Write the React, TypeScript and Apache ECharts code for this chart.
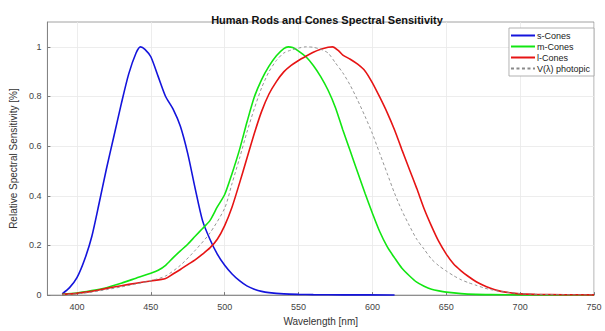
import React, { useEffect, useRef } from "react";
import * as echarts from "echarts";

const TITLE = "Human Rods and Cones Spectral Sensitivity";
const X_NAME = "Wavelength [nm]";
const Y_NAME = "Relative Spectral Sensitivity [%]";
const X_TICKS = [400, 450, 500, 550, 600, 650, 700, 750];
const Y_TICKS = [0, 0.2, 0.4, 0.6, 0.8, 1];

const S_CONES: [number, number][] = [
  [390, 0.005], [395, 0.03], [400, 0.07], [405, 0.14], [410, 0.235], [415, 0.37],
  [420, 0.51], [425, 0.64], [430, 0.77], [435, 0.89], [440, 0.975], [443, 1.0],
  [446, 0.99], [450, 0.96], [455, 0.88], [460, 0.8], [465, 0.75], [470, 0.68],
  [475, 0.57], [480, 0.43], [485, 0.3], [490, 0.225], [495, 0.165], [500, 0.12],
  [505, 0.085], [510, 0.058], [515, 0.037], [520, 0.024], [525, 0.015], [530, 0.01],
  [540, 0.005], [550, 0.003], [560, 0.002], [580, 0.001], [615, 0.0005],
];

const M_CONES: [number, number][] = [
  [390, 0.003], [400, 0.008], [410, 0.018], [420, 0.03], [430, 0.048], [440, 0.068],
  [450, 0.088], [455, 0.1], [460, 0.12], [465, 0.15], [470, 0.178], [475, 0.205],
  [480, 0.237], [485, 0.268], [490, 0.3], [495, 0.355], [500, 0.405], [505, 0.49],
  [510, 0.585], [515, 0.695], [520, 0.797], [525, 0.868], [530, 0.922], [535, 0.964],
  [540, 0.993], [543, 1.0], [546, 0.997], [550, 0.983], [555, 0.96], [560, 0.925],
  [565, 0.88], [570, 0.825], [575, 0.755], [580, 0.665], [585, 0.58], [590, 0.495],
  [595, 0.41], [600, 0.33], [605, 0.255], [610, 0.195], [615, 0.15], [620, 0.108],
  [625, 0.078], [630, 0.052], [635, 0.036], [640, 0.024], [645, 0.017], [650, 0.012],
  [660, 0.006], [670, 0.003], [680, 0.002], [700, 0.001], [750, 0.0003],
];

const L_CONES: [number, number][] = [
  [390, 0.003], [400, 0.007], [410, 0.015], [420, 0.027], [430, 0.038], [440, 0.048],
  [450, 0.057], [460, 0.067], [465, 0.085], [470, 0.103], [475, 0.123], [480, 0.142],
  [485, 0.165], [490, 0.19], [495, 0.225], [500, 0.28], [505, 0.355], [510, 0.45],
  [515, 0.55], [520, 0.65], [525, 0.74], [530, 0.81], [535, 0.86], [540, 0.899],
  [545, 0.925], [550, 0.945], [555, 0.962], [560, 0.978], [565, 0.99], [570, 0.998],
  [573, 1.0], [577, 0.985], [580, 0.967], [585, 0.95], [590, 0.93], [595, 0.903],
  [600, 0.855], [605, 0.797], [610, 0.735], [615, 0.665], [620, 0.585], [625, 0.507],
  [630, 0.43], [635, 0.348], [640, 0.278], [645, 0.215], [650, 0.165], [655, 0.125],
  [660, 0.098], [665, 0.075], [670, 0.055], [675, 0.04], [680, 0.028], [685, 0.018],
  [690, 0.012], [695, 0.008], [700, 0.005], [710, 0.003], [730, 0.0015], [750, 0.001],
];

const V_PHOTOPIC: [number, number][] = [
  [390, 0.002], [400, 0.005], [410, 0.012], [420, 0.022], [430, 0.033], [440, 0.045],
  [450, 0.058], [460, 0.077], [470, 0.12], [480, 0.18], [490, 0.25], [500, 0.35],
  [505, 0.45], [510, 0.55], [515, 0.655], [520, 0.75], [525, 0.835], [530, 0.9],
  [535, 0.945], [540, 0.975], [545, 0.987], [550, 0.995], [555, 1.0], [560, 0.998],
  [565, 0.99], [570, 0.975], [575, 0.935], [580, 0.895], [585, 0.845], [590, 0.785],
  [595, 0.72], [600, 0.65], [605, 0.57], [610, 0.49], [615, 0.41], [620, 0.34],
  [625, 0.28], [630, 0.225], [635, 0.185], [640, 0.145], [645, 0.118], [650, 0.097],
  [655, 0.078], [660, 0.062], [665, 0.05], [670, 0.04], [675, 0.03], [680, 0.022],
  [690, 0.012], [700, 0.006], [720, 0.002], [750, 0.0005],
];

const FONT = "Liberation Sans, Arial, Helvetica, sans-serif";

export default function App() {
  const ref = useRef<HTMLDivElement>(null);
  useEffect(() => {
    if (!ref.current) return;
    const chart = echarts.init(ref.current, null, { renderer: "svg" });
    const line = (name: string, data: [number, number][], color: string, width: number, type: any = "solid") => ({
      name,
      type: "line",
      data,
      showSymbol: false,
      symbol: "none",
      smooth: 0.25,
      lineStyle: { color, width, type },
      itemStyle: { color },
    });
    chart.setOption({
      animation: false,
      backgroundColor: "#ffffff",
      textStyle: { fontFamily: FONT },
      title: {
        text: TITLE,
        left: 322,
        textAlign: "center",
        top: 9,
        textStyle: { fontSize: 11, fontWeight: "bold", color: "#111", fontFamily: FONT },
      },
      legend: {
        orient: "vertical",
        right: 11,
        top: 28,
        width: 88,
        backgroundColor: "#ffffff",
        borderColor: "#a0a0a0",
        borderWidth: 0.8,
        padding: [3, 4, 3, 1],
        itemGap: 2,
        itemWidth: 24,
        itemHeight: 9,
        itemStyle: { opacity: 0, borderWidth: 0 },
        textStyle: { fontSize: 9, color: "#222", fontFamily: FONT, padding: [0, 0, 0, -3] },
        data: ["s-Cones", "m-Cones", "l-Cones", "V(λ) photopic"],
      },
      grid: {
        left: 47,
        right: 11,
        top: 22,
        bottom: 33,
        show: true,
        borderColor: "#8c8c8c",
        borderWidth: 0.8,
      },
      xAxis: {
        type: "value",
        min: 380,
        max: 750,
        name: X_NAME,
        nameLocation: "middle",
        nameGap: 20,
        nameTextStyle: { fontSize: 10, color: "#333", fontFamily: FONT },
        axisLine: { lineStyle: { color: "#7a7a7a", width: 0.8 } },
        axisTick: { inside: true, length: 3, customValues: X_TICKS, lineStyle: { color: "#7a7a7a" } },
        axisLabel: { customValues: X_TICKS, fontSize: 9, color: "#444", margin: 7 },
        splitLine: { show: true, lineStyle: { color: "#e8e8e8", width: 0.8 } },
      },
      yAxis: {
        type: "value",
        min: 0,
        max: 1.1,
        name: Y_NAME,
        nameLocation: "middle",
        nameGap: 27,
        nameTextStyle: { fontSize: 10, color: "#333", fontFamily: FONT },
        axisLine: { show: true, lineStyle: { color: "#7a7a7a", width: 0.8 } },
        axisTick: { show: true, inside: true, length: 3, customValues: Y_TICKS, lineStyle: { color: "#7a7a7a" } },
        axisLabel: { customValues: Y_TICKS, fontSize: 9, color: "#444", margin: 6 },
        splitLine: { show: true, lineStyle: { color: "#e8e8e8", width: 0.8 } },
      },
      series: [
        line("s-Cones", S_CONES, "#1414dc", 1.6),
        line("m-Cones", M_CONES, "#12e612", 1.6),
        line("l-Cones", L_CONES, "#e61414", 1.6),
        line("V(λ) photopic", V_PHOTOPIC, "#8a8a8a", 0.9, [3, 2.5]),
      ],
    });
    return () => chart.dispose();
  }, []);
  return (
    <div
      ref={ref}
      style={{ position: "fixed", left: 0, top: 0, width: 605, height: 331, background: "#fff" }}
    />
  );
}
